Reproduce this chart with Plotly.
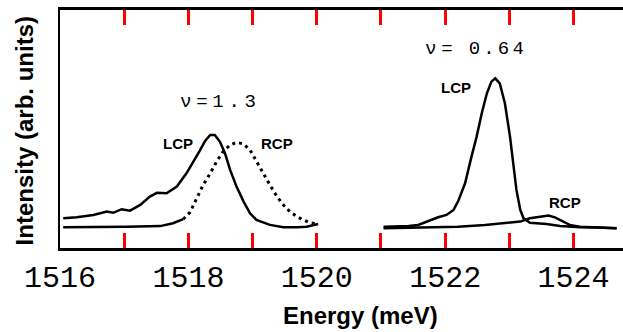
import plotly.graph_objects as go

# nu = 1.3 spectra
e13_lcp = [1516.05, 1516.26, 1516.52, 1516.73, 1516.83, 1516.96, 1517.09, 1517.25, 1517.40, 1517.51,
           1517.66, 1517.82, 1517.97, 1518.10, 1518.18, 1518.26, 1518.34, 1518.41, 1518.49, 1518.57,
           1518.65, 1518.75, 1518.86, 1518.96, 1519.06, 1519.27, 1519.48, 1519.69, 1519.84, 1520.02]
i13_lcp = [12.5, 12.9, 13.9, 15.3, 14.8, 16.3, 15.7, 18.1, 21.6, 23.2,
           23.0, 25.8, 31.4, 37.0, 41.0, 45.0, 47.5, 47.5, 44.7, 39.8,
           32.8, 25.8, 19.5, 14.6, 11.8, 9.7, 8.7, 8.7, 8.9, 10.1]

e13_rcp_base = [1516.05, 1516.52, 1517.04, 1517.56, 1517.76, 1517.92]
i13_rcp_base = [8.7, 8.7, 8.9, 9.2, 10.4, 12.1]
e13_rcp = [1517.92, 1518.025, 1518.13, 1518.23, 1518.34, 1518.44, 1518.54, 1518.65, 1518.75, 1518.86,
           1518.96, 1519.06, 1519.17, 1519.27, 1519.38, 1519.48, 1519.58, 1519.69, 1519.79, 1519.89, 1520.02]
i13_rcp = [12.1, 15.0, 20.9, 26.5, 31.4, 36.3, 40.5, 43.3, 44.4, 43.7,
           41.2, 36.3, 31.4, 26.5, 21.6, 18.1, 15.3, 13.2, 11.8, 10.6, 10.1]

# nu = 0.64 spectra
e064_lcp = [1521.04, 1521.43, 1521.58, 1521.74, 1521.89, 1522.02, 1522.13, 1522.20, 1522.31, 1522.41,
            1522.49, 1522.57, 1522.65, 1522.72, 1522.78, 1522.85, 1522.93, 1523.01, 1523.06, 1523.11,
            1523.17, 1523.22, 1523.32, 1523.58, 1523.79, 1523.94, 1524.10, 1524.36, 1524.67]
i064_lcp = [8.9, 9.2, 9.7, 11.5, 12.9, 13.9, 16.0, 19.5, 27.2, 38.4,
            46.8, 56.6, 65.0, 69.9, 71.3, 69.2, 60.8, 46.8, 35.6, 24.4,
            16.0, 12.5, 10.6, 10.1, 9.2, 8.9, 8.7, 8.6, 8.3]

e064_rcp = [1521.04, 1521.58, 1522.20, 1522.62, 1522.93, 1523.17, 1523.32, 1523.48, 1523.61, 1523.71,
            1523.84, 1523.94, 1524.10, 1524.36, 1524.67]
i064_rcp = [8.3, 8.7, 8.9, 9.7, 10.4, 11.1, 12.5, 13.2, 13.6, 12.9,
            11.1, 9.7, 8.9, 8.7, 8.3]

hidden_labels = ["1517", "1519", "1521", "1523"]

fig = go.Figure()
line_solid = dict(color="black", width=2.5)
fig.add_trace(go.Scatter(x=e13_lcp, y=i13_lcp, mode="lines", line=line_solid))
fig.add_trace(go.Scatter(x=e13_rcp_base, y=i13_rcp_base, mode="lines", line=line_solid))
fig.add_trace(go.Scatter(x=e13_rcp, y=i13_rcp, mode="lines",
                         line=dict(color="black", width=3, dash="3px,4px")))
fig.add_trace(go.Scatter(x=e064_lcp, y=i064_lcp, mode="lines", line=line_solid))
fig.add_trace(go.Scatter(x=e064_rcp, y=i064_rcp, mode="lines", line=line_solid))

mono = "Liberation Mono"
sans = "Liberation Sans"
bold = dict(family=sans, size=15, color="#000")
sp = "\u2005"
annots = [
    dict(x=1518.46, y=61.3, text="ν" + sp + "=" + sp + "1" + sp + "." + sp + "3",
         font=dict(family=mono, size=19, color="#000")),
    dict(x=1522.46, y=83.6, text="ν" + sp + "=" + sp + " 0" + "\u2006" + "." + "\u2006" + "6" + "\u2006" + "4",
         font=dict(family=mono, size=19, color="#000")),
    dict(x=1517.84, y=43.7, text="<b>LCP</b>", font=bold),
    dict(x=1519.38, y=43.7, text="<b>RCP</b>", font=bold),
    dict(x=1522.17, y=67.6, text="<b>LCP</b>", font=bold),
    dict(x=1523.87, y=19.3, text="<b>RCP</b>", font=bold),
]
for a in annots:
    fig.add_annotation(xref="x", yref="y", showarrow=False, **a)

fig.add_annotation(xref="paper", yref="paper", x=(360 - 60) / 563, y=-67 / 238,
                   text="<b>Energy (meV)</b>", showarrow=False,
                   font=dict(family=sans, size=24, color="#000"), yanchor="middle")
fig.add_annotation(xref="paper", yref="paper", x=-36 / 563, y=0.49,
                   text="<b>Intensity (arb. units)</b>", showarrow=False, textangle=-90,
                   font=dict(family=sans, size=24, color="#000"), xanchor="center")

fig.update_layout(
    width=623, height=332,
    margin=dict(l=60, r=0, t=10, b=84),
    paper_bgcolor="white", plot_bgcolor="white",
    showlegend=False,
    xaxis=dict(
        range=[1516, 1524.77], showgrid=False,
        showline=True, linecolor="#000", linewidth=2.5, mirror="allticks",
        ticks="inside", ticklen=15, tickwidth=3, tickcolor="red",
        tickmode="linear", tick0=1516, dtick=1,
        labelalias={k: " " for k in hidden_labels},
        tickfont=dict(family=mono, size=30, color="#000"),
    ),
    yaxis=dict(
        range=[0, 100], showgrid=False, zerolinecolor="#000",
        showline=True, linecolor="#000", linewidth=2,
        showticklabels=False,
    ),
)

fig.write_html("out.html")
